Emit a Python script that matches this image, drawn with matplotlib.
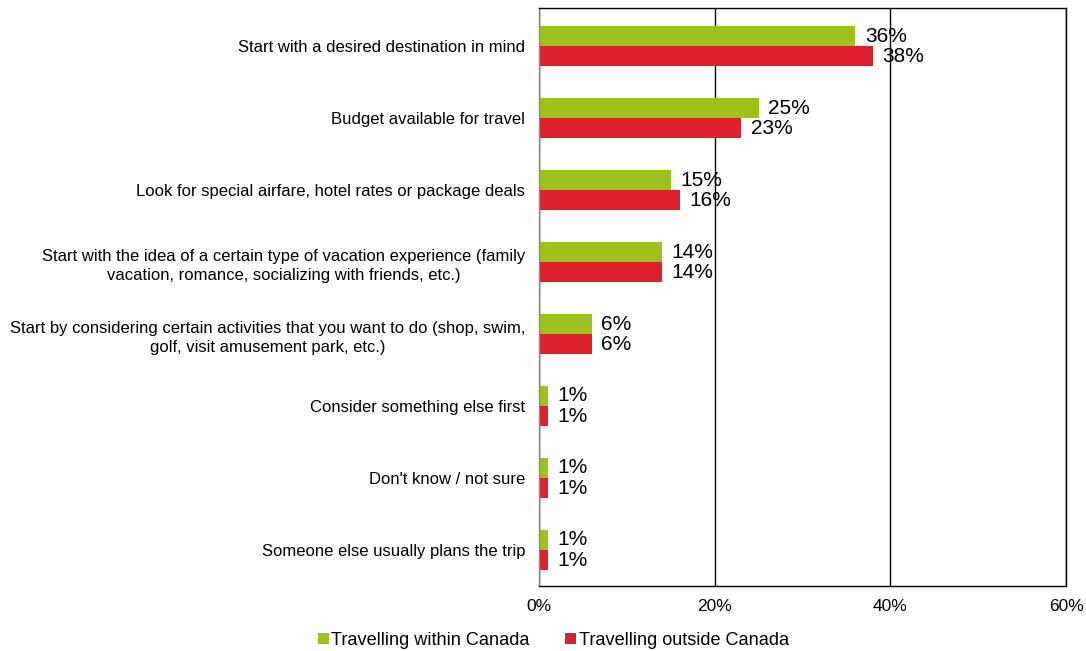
import matplotlib.pyplot as plt
import numpy as np

plt.rcParams['font.family'] = ['Liberation Sans', 'DejaVu Sans']

categories = [
    "Start with a desired destination in mind",
    "Budget available for travel",
    "Look for special airfare, hotel rates or package deals",
    "Start with the idea of a certain type of vacation experience (family\nvacation, romance, socializing with friends, etc.)",
    "Start by considering certain activities that you want to do (shop, swim,\ngolf, visit amusement park, etc.)",
    "Consider something else first",
    "Don't know / not sure",
    "Someone else usually plans the trip",
]
within = [36, 25, 15, 14, 6, 1, 1, 1]
outside = [38, 23, 16, 14, 6, 1, 1, 1]
series_names = ["Travelling within Canada", "Travelling outside Canada"]
colors = ["#9DC21A", "#E01F2E"]

fig = plt.figure(figsize=(10.86, 6.51), dpi=100)
ax = fig.add_axes([0.4963, 0.0998, 0.4853, 0.8879])

y = np.arange(len(categories))
h = 0.28
b1 = ax.barh(y - h / 2, within, height=h, color=colors[0], label=series_names[0])
b2 = ax.barh(y + h / 2, outside, height=h, color=colors[1], label=series_names[1])

for bars, vals in [(b1, within), (b2, outside)]:
    for bar, v in zip(bars, vals):
        ax.text(bar.get_width() + 1.1, bar.get_y() + bar.get_height() / 2,
                f"{v}%", va="center", ha="left", fontsize=15)

ax.set_xlim(0, 60)
ax.set_ylim(len(categories) - 0.5, -0.53)
ax.set_xticks([0, 20, 40, 60])
ax.set_xticklabels([f"{t}%" for t in [0, 20, 40, 60]], fontsize=12.5)
ax.set_yticks(y)
ax.set_yticklabels(categories, fontsize=12, multialignment="center",
                   linespacing=1.35)
ax.tick_params(length=0, pad=10, axis="y")
ax.tick_params(length=0, pad=9, axis="x")
ax.xaxis.grid(True, color="black", linewidth=1)
ax.set_axisbelow(True)
for s in ax.spines.values():
    s.set_color("black")
    s.set_linewidth(1)
ax.spines["left"].set_color("#888888")

fig.legend(handles=[b1, b2], labels=series_names, loc="center",
           bbox_to_anchor=(0.5097, 0.016), ncol=2, frameon=False,
           fontsize=13.1, handlelength=0.6, handleheight=0.6,
           handletextpad=0.12, columnspacing=1.95)

fig.savefig("out.png", dpi=100)
